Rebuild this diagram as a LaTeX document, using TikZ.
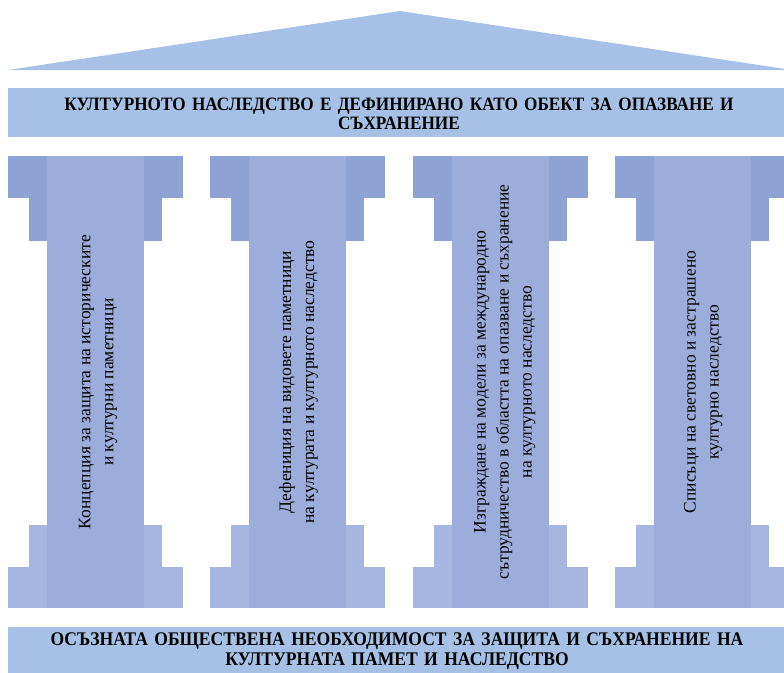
\documentclass[tikz,border=0pt]{standalone}
\usepackage{fontspec}
\setmainfont{Liberation Serif}
\newfontfamily\bannerfont[FakeStretch=0.91]{Liberation Serif}
\usepackage{tikz}
\usetikzlibrary{positioning}
\definecolor{roofblue}{HTML}{A6C1E5}
\definecolor{capblue}{HTML}{8EA3D3}
\definecolor{shaftblue}{HTML}{9CADDB}
\definecolor{baseblue}{HTML}{A6B6E0}

\begin{document}
\begin{tikzpicture}[
    x=1pt, y=-1pt,
    roof/.style={fill=roofblue, draw=none},
    banner/.style={font=\bannerfont\fontsize{18.9}{19.5}\selectfont\bfseries, align=center, text width=780pt},
    capital/.style={fill=capblue, draw=none},
    pedestal/.style={fill=baseblue, draw=none},
    shaft/.style={fill=shaftblue, draw=none},
    pillartext/.style={rotate=90, align=center, font=\fontsize{17.5}{23}\selectfont}
]
\useasboundingbox (0,0) rectangle (784,672);
\clip (0,0) rectangle (784,672);

% roof and architrave
\fill[roof] (8,70) -- (400,11) -- (792,70) -- cycle;
\fill[roof] (8,88) rectangle (792,137);
\node[banner] (top) at (399,114) {КУЛТУРНОТО НАСЛЕДСТВО Е ДЕФИНИРАНО КАТО ОБЕКТ ЗА ОПАЗВАНЕ И\\СЪХРАНЕНИЕ};

% pillars
\foreach \i/\dx/\txt in {0/90/{Концепция за защита на историческите\\и културни паметници},
                     1/88/{Дефениция на видовете паметници\\на културата и културното наследство},
                     2/92/{Изграждане на модели за международно\\сътрудничество в областта на опазване и съхранение\\на културното наследство},
                     3/88/{Списъци на световно и застрашено\\културно наследство}} {
  \pgfmathsetmacro{\xo}{8+202.4*\i}
  \begin{scope}[xshift=\xo pt]
    \fill[capital] (0,156) rectangle (175,198);
    \fill[capital] (21,198) rectangle (154,241);
    \fill[pedestal] (21,525) rectangle (154,567);
    \fill[pedestal] (0,567) rectangle (175,608);
    \fill[shaft] (39,156) rectangle (136,608);
    \node[pillartext] (p\i) at (\dx,382) {\txt};
  \end{scope}
}

% foundation
\fill[roof] (8,627) rectangle (792,680);
\node[banner, font=\bannerfont\fontsize{19.3}{19.5}\selectfont\bfseries] (bottom) at (397,651) {ОСЪЗНАТА ОБЩЕСТВЕНА НЕОБХОДИМОСТ ЗА ЗАЩИТА И СЪХРАНЕНИЕ НА\\КУЛТУРНАТА ПАМЕТ И НАСЛЕДСТВО};
\end{tikzpicture}
\end{document}
